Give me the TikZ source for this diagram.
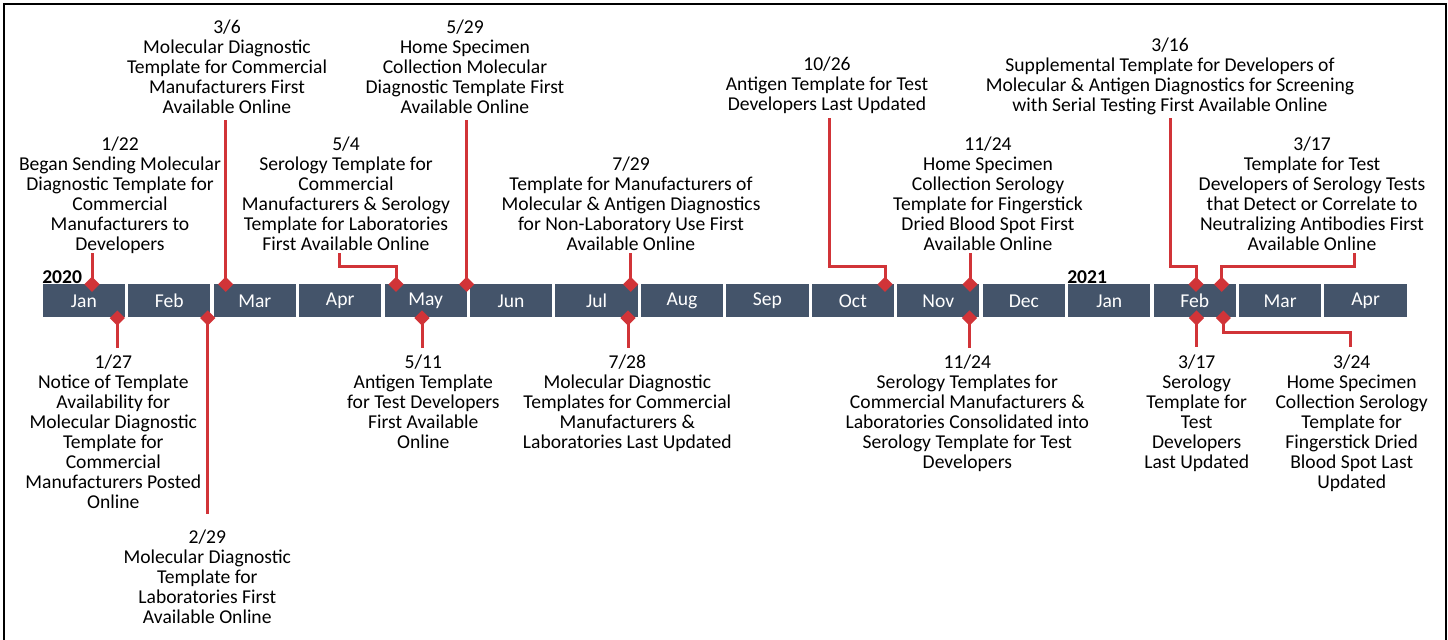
\documentclass[tikz,border=0pt]{standalone}
\usepackage{fontspec}
\setmainfont{Carlito}
\usetikzlibrary{shapes.geometric}
\definecolor{tlred}{RGB}{209,52,56}
\definecolor{tlbar}{RGB}{68,84,106}
\newcommand{\fs}{\rule{0pt}{12pt}}
\begin{document}
\begin{tikzpicture}[x=0.75pt,y=-0.75pt,
  txt/.style={align=center,anchor=north,inner sep=0pt,font=\fontsize{14.7}{15}\selectfont},
  month/.style={fill=tlbar,text=white,minimum width=61.7pt,minimum height=24.75pt,inner sep=0pt,font=\fontsize{14.7}{15}\selectfont},
  dia/.style={diamond,fill=tlred,minimum width=11.5pt,minimum height=11.5pt,inner sep=0pt},
  conn/.style={draw=tlred,line width=2.25pt},
  year/.style={anchor=base west,inner sep=0pt,font=\fontsize{14.7}{15}\selectfont\bfseries}]
\useasboundingbox (0,0) rectangle (1448,639);
\draw[line width=1.5pt] (4,640) -- (4,4) -- (1446,4) -- (1446,640);

\foreach \m [count=\i from 0] in {Jan,Feb,Mar,Apr,May,Jun,Jul,Aug,Sep,Oct,Nov,Dec,Jan,Feb,Mar,Apr}
  \node[month] (m\i) at ({83.85+\i*85.45},300.8) {\m};

\node[year] (y2020) at (42,283) {2020};
\node[year] (y2021) at (1067,283) {2021};

% top texts
\node[txt] (tA) at (120,133.8) {\fs 1/22\\Began Sending Molecular\\Diagnostic Template for\\Commercial\\Manufacturers to\\Developers};
\node[txt] (tB) at (227,17.2) {\fs 3/6\\Molecular Diagnostic\\Template for Commercial\\Manufacturers First\\Available Online};
\node[txt] (tC) at (346,133.8) {\fs 5/4\\Serology Template for\\Commercial\\Manufacturers \& Serology\\Template for Laboratories\\First Available Online};
\node[txt] (tD) at (465,17.2) {\fs 5/29\\Home Specimen\\Collection Molecular\\Diagnostic Template First\\Available Online};
\node[txt] (tE) at (631,153.8) {\fs 7/29\\Template for Manufacturers of\\Molecular \& Antigen Diagnostics\\for Non-Laboratory Use First\\Available Online};
\node[txt] (tF) at (827,53.8) {\fs 10/26\\Antigen Template for Test\\Developers Last Updated};
\node[txt] (tG) at (988,133.8) {\fs 11/24\\Home Specimen\\Collection Serology\\Template for Fingerstick\\Dried Blood Spot First\\Available Online};
\node[txt] (tH) at (1170,34.8) {\fs 3/16\\Supplemental Template for Developers of\\Molecular \& Antigen Diagnostics for Screening\\with Serial Testing First Available Online};
\node[txt] (tI) at (1312,133.8) {\fs 3/17\\Template for Test\\Developers of Serology Tests\\that Detect or Correlate to\\Neutralizing Antibodies First\\Available Online};

% bottom texts
\node[txt] (tJ) at (113.3,352.2) {\fs 1/27\\Notice of Template\\Availability for\\Molecular Diagnostic\\Template for\\Commercial\\Manufacturers Posted\\Online};
\node[txt] (tK) at (207.3,527.2) {\fs 2/29\\Molecular Diagnostic\\Template for\\Laboratories First\\Available Online};
\node[txt] (tL) at (423.3,352.2) {\fs 5/11\\Antigen Template\\for Test Developers\\First Available\\Online};
\node[txt] (tM) at (627.3,352.2) {\fs 7/28\\Molecular Diagnostic\\Templates for Commercial\\Manufacturers \&\\Laboratories Last Updated};
\node[txt] (tN) at (967.3,352.2) {\fs 11/24\\Serology Templates for\\Commercial Manufacturers \&\\Laboratories Consolidated into\\Serology Template for Test\\Developers};
\node[txt] (tO) at (1196.7,352.2) {\fs 3/17\\Serology\\Template for\\Test\\Developers\\Last Updated};
\node[txt] (tP) at (1351.7,352.2) {\fs 3/24\\Home Specimen\\Collection Serology\\Template for\\Fingerstick Dried\\Blood Spot Last\\Updated};

% diamonds
\node[dia] (dA) at (92,284.3) {};
\node[dia] (dB) at (225.7,284.3) {};
\node[dia] (dC) at (396,284.3) {};
\node[dia] (dD) at (466.7,284.3) {};
\node[dia] (dE) at (630.7,284.3) {};
\node[dia] (dF) at (885,284.3) {};
\node[dia] (dG) at (970,284.3) {};
\node[dia] (dH) at (1196,284.3) {};
\node[dia] (dI) at (1221.7,284.3) {};
\node[dia] (dJ) at (117.3,318) {};
\node[dia] (dK) at (207.7,318) {};
\node[dia] (dL) at (422,318) {};
\node[dia] (dM) at (628,318) {};
\node[dia] (dN) at (969.5,318) {};
\node[dia] (dO) at (1196.5,318) {};
\node[dia] (dP) at (1223.3,318) {};

% connector ends and corners
\coordinate (sA) at (92,253);
\coordinate (sB) at (225.7,120);
\coordinate (sC) at (339,253);
\coordinate (cC) at (396,266.7);
\coordinate (sD) at (466.7,120);
\coordinate (sE) at (630.7,253);
\coordinate (sF) at (829,118);
\coordinate (cF) at (885,266.7);
\coordinate (sG) at (970,253);
\coordinate (sH) at (1170.7,118);
\coordinate (cH) at (1196,266.7);
\coordinate (sI) at (1354.3,253);
\coordinate (cI) at (1221.7,266.7);
\coordinate (eJ) at (117.3,348.3);
\coordinate (eK) at (207.7,514);
\coordinate (eL) at (422,348.3);
\coordinate (eM) at (628,348.3);
\coordinate (eN) at (969.5,348.3);
\coordinate (eO) at (1196.5,346.7);
\coordinate (cP) at (1350,332.3);
\coordinate (eP) at (1350,346.7);

\draw[conn] (sA) -- (dA.center);
\draw[conn] (sB) -- (dB.center);
\draw[conn] (sC) |- (cC) -- (dC.center);
\draw[conn] (sD) -- (dD.center);
\draw[conn] (sE) -- (dE.center);
\draw[conn] (sF) |- (cF) -- (dF.center);
\draw[conn] (sG) -- (dG.center);
\draw[conn] (sH) |- (cH) -- (dH.center);
\draw[conn] (sI) |- (cI) -- (dI.center);
\draw[conn] (dJ.center) -- (eJ);
\draw[conn] (dK.center) -- (eK);
\draw[conn] (dL.center) -- (eL);
\draw[conn] (dM.center) -- (eM);
\draw[conn] (dN.center) -- (eN);
\draw[conn] (dO.center) -- (eO);
\draw[conn] (dP.center) |- (cP) -- (eP);
\end{tikzpicture}
\end{document}
